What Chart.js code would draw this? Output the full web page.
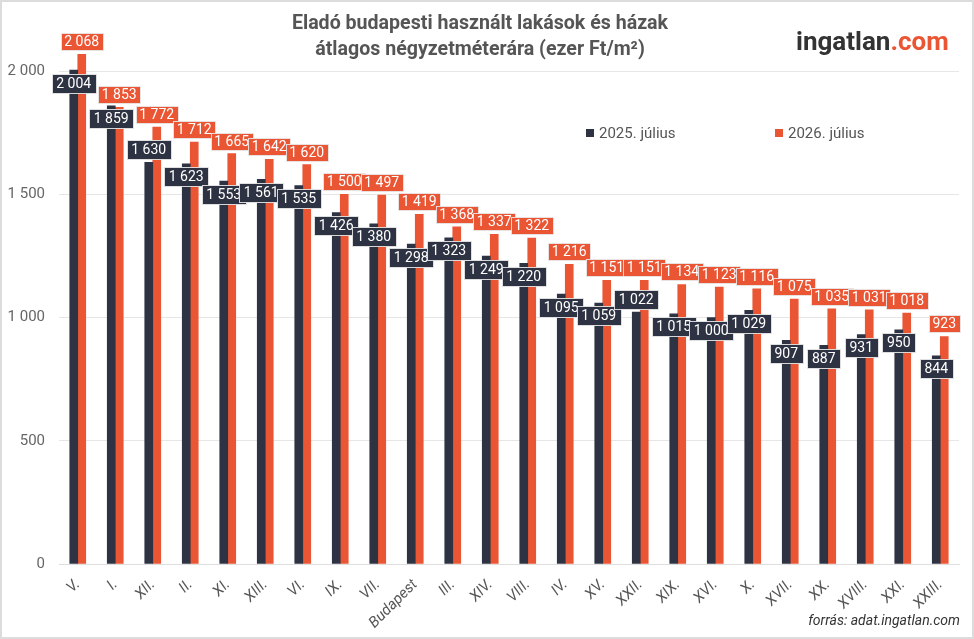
<!DOCTYPE html>
<html>
<head>
<meta charset="utf-8">
<script src="https://cdn.jsdelivr.net/npm/chart.js@4.4.1/dist/chart.umd.min.js"></script>
<style>
  html, body { margin: 0; padding: 0; background: #fff; }
  #wrap { position: relative; width: 974px; height: 639px; font-family: Roboto, sans-serif; overflow: hidden; }
  #wrap:after { content: ""; position: absolute; inset: 0; border: 2px solid #dcdcdc; pointer-events: none; }
  canvas { position: absolute; left: 0; top: 0; }
  .title { position: absolute; left: 230px; width: 500px; top: 10px; text-align: center; font-weight: bold; font-size: 19.6px; line-height: 26px; color: #555; }
  .logo { position: absolute; left: 796px; top: 26px; font-weight: bold; font-size: 26px; color: #333; }
  .logo span { color: #ea5534; }
  .legend { position: absolute; top: 124px; font-size: 15px; color: #555; }
  .legend i { display: inline-block; width: 8px; height: 8px; margin-right: 5px; vertical-align: 1px; }
  .src { position: absolute; right: 14px; top: 612px; font-style: italic; font-size: 14px; color: #333; }
</style>
</head>
<body>
<div id="wrap">
  <canvas id="chart" width="974" height="639"></canvas>
  <div class="title">Eladó budapesti használt lakások és házak<br>átlagos négyzetméterára (ezer Ft/m²)</div>
  <div class="logo">ingatlan<span>.com</span></div>
  <div class="legend" style="left:586px"><i style="background:#2e3343"></i>2025. július</div>
  <div class="legend" style="left:775px"><i style="background:#ea5534"></i>2026. július</div>
  <div class="src">forrás: adat.ingatlan.com</div>
</div>
<script>
// kerületek, ár (ezer Ft/m2)
var districts = ["V.", "I.", "XII.", "II.", "XI.", "XIII.", "VI.", "IX.", "VII.", "Budapest", "III.", "XIV.",
  "VIII.", "IV.", "XV.", "XXII.", "XIX.", "XVI.", "X.", "XVII.", "XX.", "XVIII.", "XXI.", "XXIII."];
var jul2025 = [2004, 1859, 1630, 1623, 1553, 1561, 1535, 1426, 1380, 1298, 1323, 1249,
  1220, 1095, 1059, 1022, 1015, 1000, 1029, 907, 887, 931, 950, 844];
var jul2026 = [2068, 1853, 1772, 1712, 1665, 1642, 1620, 1500, 1497, 1419, 1368, 1337,
  1322, 1216, 1151, 1151, 1134, 1123, 1116, 1075, 1035, 1031, 1018, 923];
var yTicks = [0, 500, 1000, 1500, 2000];

function fmt(v) {
  return String(v).replace(/\B(?=(\d{3})+(?!\d))/g, " ");
}

// value boxes on the bars (no datalabels plugin offline)
var barLabels = {
  id: 'barLabels',
  afterDatasetsDraw: function (chart, args, opts) {
    var ctx = chart.ctx;
    ctx.save();
    ctx.font = '14px Roboto';
    ctx.textAlign = 'center';
    ctx.textBaseline = 'middle';
    ctx.lineWidth = 1;
    for (var i = 0; i < chart.data.labels.length; i++) {
      chart.data.datasets.forEach(function (ds, d) {
        var bar = chart.getDatasetMeta(d).data[i];
        var above = d == 1 || opts.lift.indexOf(i) >= 0;
        var cy = above ? bar.y - 12.5 : bar.y + 13;
        var txt = fmt(ds.data[i]);
        var pad = d == 0 ? 9 : 7;
        var h = d == 0 ? 19 : 17;
        var w = Math.round(ctx.measureText(txt).width + pad);
        var x0 = Math.round(bar.x - w / 2) + 0.5;
        var y0 = Math.round(cy - h / 2) + 0.5;
        ctx.fillStyle = ds.backgroundColor;
        ctx.fillRect(x0, y0, w, h);
        ctx.strokeStyle = 'rgba(232,232,232,0.9)';
        ctx.strokeRect(x0, y0, w, h);
        ctx.fillStyle = '#fff';
        ctx.fillText(txt, bar.x, cy + 1);
      });
    }
    ctx.restore();
  }
};

var ctx = document.getElementById('chart');
var myChart = new Chart(ctx, {
  type: 'bar',
  data: {
    labels: districts,
    datasets: [{
      label: '2025. július',
      data: jul2025,
      backgroundColor: '#2e3343',
      barThickness: 8,
      clip: false
    }, {
      label: '2026. július',
      data: jul2026,
      backgroundColor: '#ea5534',
      barThickness: 8,
      clip: false
    }]
  },
  options: {
    responsive: false,
    animation: false,
    datasets: {
      bar: { categoryPercentage: 0.587 }
    },
    layout: {
      padding: { left: 0, top: 71, right: 15, bottom: 0 }
    },
    plugins: {
      legend: { display: false },
      tooltip: { enabled: false },
      barLabels: { lift: [2, 15] } // these two labels sit above their bar in the original
    },
    scales: {
      y: {
        min: 0,
        max: 2000,
        afterBuildTicks: function (scale) {
          scale.ticks = yTicks.map(function (v) { return { value: v }; });
        },
        afterFit: function (scale) { scale.width = 59; },
        border: { display: false },
        grid: { color: '#e6e6e6', drawTicks: false },
        ticks: {
          padding: 14,
          color: '#666',
          font: { family: 'Roboto', size: 15 },
          callback: function (val) { return fmt(val); }
        }
      },
      x: {
        afterFit: function (scale) { scale.height = 75; },
        border: { color: '#dedede' },
        grid: { display: false },
        ticks: {
          minRotation: 45,
          maxRotation: 45,
          padding: 4,
          color: '#555',
          font: { family: 'Roboto', size: 15, style: 'italic' }
        }
      }
    }
  },
  plugins: [barLabels]
});
</script>
</body>
</html>
